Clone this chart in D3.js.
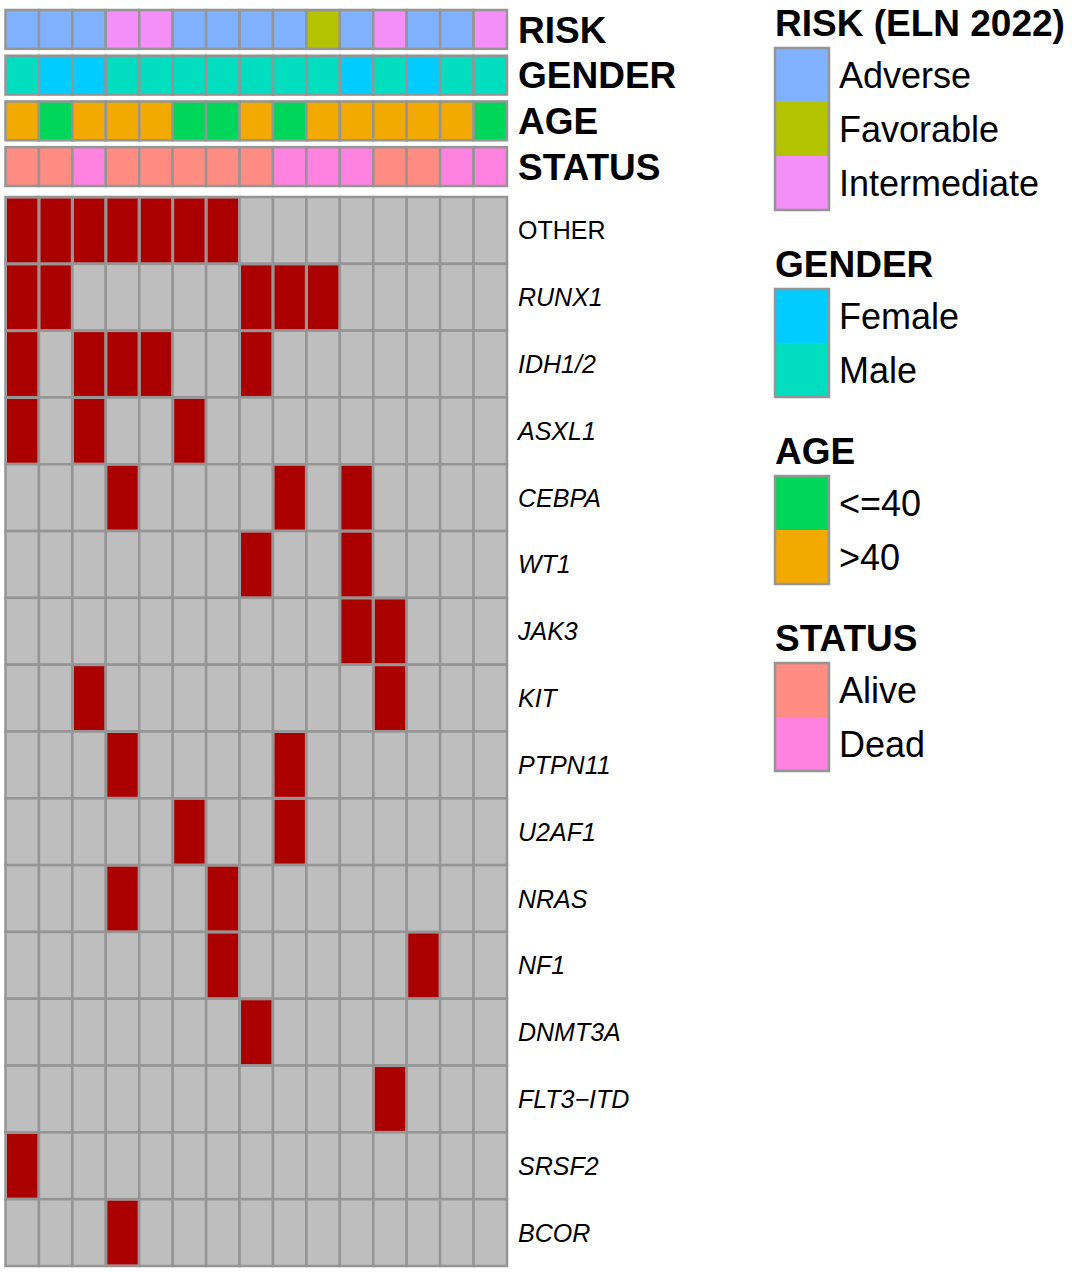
<!DOCTYPE html>
<html>
<head>
<meta charset="utf-8">
<script src="https://cdn.jsdelivr.net/npm/d3@7"></script>
<style>
  body { margin: 0; background: #fff; }
  text { font-family: "Liberation Sans", Arial, sans-serif; fill: #000; }
</style>
</head>
<body>
<div id="chart"></div>
<script>
// Samples (columns)
const samples = ['S1','S2','S3','S4','S5','S6','S7','S8','S9','S10','S11','S12','S13','S14','S15'];

// Annotation tracks
const annoNames = ['RISK', 'GENDER', 'AGE', 'STATUS'];
const risk   = ['Adverse','Adverse','Adverse','Intermediate','Intermediate','Adverse','Adverse','Adverse','Adverse','Favorable','Adverse','Intermediate','Adverse','Adverse','Intermediate'];
const gender = ['Male','Female','Female','Male','Male','Male','Male','Male','Male','Male','Female','Male','Female','Male','Male'];
const age    = ['>40','<=40','>40','>40','>40','<=40','<=40','>40','<=40','>40','>40','>40','>40','>40','<=40'];
const status = ['Alive','Alive','Dead','Alive','Alive','Alive','Alive','Alive','Dead','Dead','Dead','Alive','Alive','Dead','Dead'];

// Genes (rows) and mutation matrix (1 = mutated)
const genes = ['OTHER','RUNX1','IDH1/2','ASXL1','CEBPA','WT1','JAK3','KIT','PTPN11','U2AF1','NRAS','NF1','DNMT3A','FLT3\u2212ITD','SRSF2','BCOR'];
const mutations = [
  [1,1,1,1,1,1,1,0,0,0,0,0,0,0,0], // OTHER
  [1,1,0,0,0,0,0,1,1,1,0,0,0,0,0], // RUNX1
  [1,0,1,1,1,0,0,1,0,0,0,0,0,0,0], // IDH1/2
  [1,0,1,0,0,1,0,0,0,0,0,0,0,0,0], // ASXL1
  [0,0,0,1,0,0,0,0,1,0,1,0,0,0,0], // CEBPA
  [0,0,0,0,0,0,0,1,0,0,1,0,0,0,0], // WT1
  [0,0,0,0,0,0,0,0,0,0,1,1,0,0,0], // JAK3
  [0,0,1,0,0,0,0,0,0,0,0,1,0,0,0], // KIT
  [0,0,0,1,0,0,0,0,1,0,0,0,0,0,0], // PTPN11
  [0,0,0,0,0,1,0,0,1,0,0,0,0,0,0], // U2AF1
  [0,0,0,1,0,0,1,0,0,0,0,0,0,0,0], // NRAS
  [0,0,0,0,0,0,1,0,0,0,0,0,1,0,0], // NF1
  [0,0,0,0,0,0,0,1,0,0,0,0,0,0,0], // DNMT3A
  [0,0,0,0,0,0,0,0,0,0,0,1,0,0,0], // FLT3-ITD
  [1,0,0,0,0,0,0,0,0,0,0,0,0,0,0], // SRSF2
  [0,0,0,1,0,0,0,0,0,0,0,0,0,0,0]  // BCOR
];

// Legend groups
const riskLevels = ['Adverse', 'Favorable', 'Intermediate'];
const genderLevels = ['Female', 'Male'];
const ageLevels = ['<=40', '>40'];
const statusLevels = ['Alive', 'Dead'];

const colors = {
  RISK:   d3.scaleOrdinal(riskLevels, ['#80B1FF', '#B3C300', '#F48EF8']),
  GENDER: d3.scaleOrdinal(genderLevels, ['#00CCFF', '#00DDBF']),
  AGE:    d3.scaleOrdinal(ageLevels, ['#00D65A', '#F2A900']),
  STATUS: d3.scaleOrdinal(statusLevels, ['#FF8C82', '#FF82E0'])
};
const annoData = { RISK: risk, GENDER: gender, AGE: age, STATUS: status };

const width = 1072, height = 1272;
const borderColor = '#959595';

let svg = d3.select('#chart')
  .append('svg')
    .attr('width', width)
    .attr('height', height);

// Scales
let xScale = d3.scaleBand()
  .domain(samples)
  .range([5.5, 507]);

let annoScale = d3.scaleBand()
  .domain(annoNames)
  .range([10, 186])
  .paddingInner(0.15);

let yScale = d3.scaleBand()
  .domain(genes)
  .range([197, 1266]);

// Annotation tracks
annoNames.forEach(function(name) {
  let g = svg.append('g');
  g.selectAll('rect')
    .data(samples)
    .enter()
    .append('rect')
      .attr('x', d => xScale(d))
      .attr('y', annoScale(name))
      .attr('width', xScale.bandwidth())
      .attr('height', annoScale.bandwidth())
      .attr('fill', (d, i) => colors[name](annoData[name][i]))
      .attr('stroke', borderColor)
      .attr('stroke-width', 2.5);

  g.append('text')
    .attr('x', 518)
    .attr('y', annoScale(name) + annoScale.bandwidth() / 2)
    .attr('dy', '0.36em')
    .style('font-size', '37px')
    .style('font-weight', 'bold')
    .text(name);
});

// Mutation grid
let cells = [];
genes.forEach(function(gene, r) {
  samples.forEach(function(s, c) {
    cells.push({ gene: gene, sample: s, value: mutations[r][c] });
  });
});

svg.append('g')
  .selectAll('rect')
    .data(cells)
  .enter()
  .append('rect')
    .attr('x', d => xScale(d.sample))
    .attr('y', d => yScale(d.gene))
    .attr('width', xScale.bandwidth())
    .attr('height', yScale.bandwidth())
    .attr('fill', '#BEBEBE')
    .attr('stroke', borderColor)
    .attr('stroke-width', 2.5);

svg.append('g')
  .selectAll('rect')
    .data(cells.filter(d => d.value === 1))
  .enter()
  .append('rect')
    .attr('x', d => xScale(d.sample) + 1.5)
    .attr('y', d => yScale(d.gene) + 1.5)
    .attr('width', xScale.bandwidth() - 3)
    .attr('height', yScale.bandwidth() - 3)
    .attr('fill', '#AA0000');

// Gene labels
svg.append('g')
  .selectAll('text')
    .data(genes)
  .enter()
  .append('text')
    .attr('x', 518)
    .attr('y', d => yScale(d) + yScale.bandwidth() / 2)
    .attr('dy', '0.36em')
    .style('font-size', '25px')
    .style('font-style', d => d === 'OTHER' ? 'normal' : 'italic')
    .text(d => d);

// Legends
const legends = [
  { title: 'RISK (ELN 2022)', key: 'RISK', levels: riskLevels },
  { title: 'GENDER', key: 'GENDER', levels: genderLevels },
  { title: 'AGE', key: 'AGE', levels: ageLevels },
  { title: 'STATUS', key: 'STATUS', levels: statusLevels }
];

const legX = 775, boxW = 54, boxH = 54;
let baseline = 36;
legends.forEach(function(leg) {
  let g = svg.append('g');
  g.append('text')
    .attr('x', legX)
    .attr('y', baseline)
    .style('font-size', '37px')
    .style('font-weight', 'bold')
    .text(leg.title);

  let top = baseline + 12;
  let ly = d3.scaleBand()
    .domain(leg.levels)
    .range([top, top + boxH * leg.levels.length]);

  g.selectAll('rect.key')
    .data(leg.levels)
    .enter()
    .append('rect')
      .attr('class', 'key')
      .attr('x', legX)
      .attr('y', d => ly(d))
      .attr('width', boxW)
      .attr('height', ly.bandwidth())
      .attr('fill', d => colors[leg.key](d));

  g.append('rect')
    .attr('x', legX)
    .attr('y', top)
    .attr('width', boxW)
    .attr('height', boxH * leg.levels.length)
    .attr('fill', 'none')
    .attr('stroke', borderColor)
    .attr('stroke-width', 2.5);

  g.selectAll('text.lab')
    .data(leg.levels)
    .enter()
    .append('text')
      .attr('class', 'lab')
      .attr('x', legX + 64)
      .attr('y', d => ly(d) + ly.bandwidth() / 2)
      .attr('dy', '0.36em')
      .style('font-size', '36px')
      .text(d => d);

  baseline = top + boxH * leg.levels.length + 67;
});
</script>
</body>
</html>
